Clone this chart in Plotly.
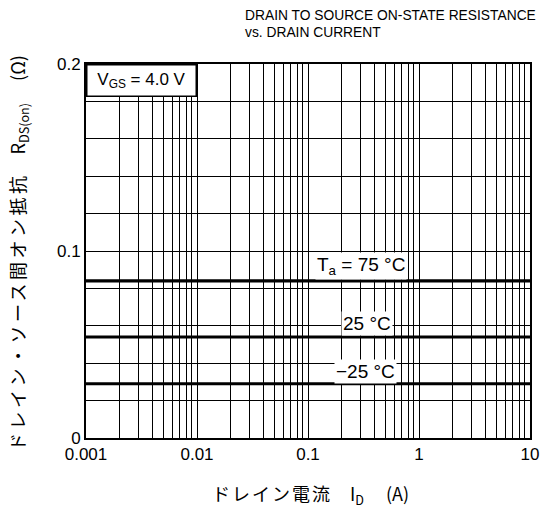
import math
import plotly.graph_objects as go

# ---- data ----
drain_current = [0.001, 10]            # A
r_ta_75 = [0.084, 0.084]               # ohm
r_ta_25 = [0.054, 0.054]
r_ta_m25 = [0.029, 0.029]

x_major = [0.001, 0.01, 0.1, 1, 10]
x_major_text = ["0.001", "0.01", "0.1", "1", "10"]
y_ticks = [0, 0.02, 0.04, 0.06, 0.08, 0.1, 0.12, 0.14, 0.16, 0.18, 0.2]
y_tick_text = ["0", "", "", "", "", "0.1", "", "", "", "", "0.2"]

series_names = ["Ta = 75 °C", "Ta = 25 °C", "Ta = −25 °C"]

# label anchors (data units)
lab_75 = (0.30, 0.092)
lab_25 = (0.34, 0.0615)
lab_m25 = (0.33, 0.0353)

LAT = "Liberation Sans, Arial, Helvetica, sans-serif"
JP = "Noto Sans CJK JP, Liberation Sans, sans-serif"

# grid positions on log axis (all decades 1..9)
x_ticks, x_text = [], []
for i, d in enumerate(x_major[:-1]):
    for m in range(1, 10):
        x_ticks.append(d * m)
        x_text.append(x_major_text[i] if m == 1 else "")
x_ticks.append(x_major[-1])
x_text.append(x_major_text[-1])

fig = go.Figure()
for name, ys in zip(series_names, [r_ta_75, r_ta_25, r_ta_m25]):
    fig.add_trace(go.Scatter(x=drain_current, y=ys, mode="lines", name=name,
                             line=dict(color="black", width=3.2), showlegend=False))

fig.update_layout(
    width=541, height=508,
    margin=dict(l=86, r=11, t=64, b=70, autoexpand=False),
    paper_bgcolor="white", plot_bgcolor="white",
    font=dict(family=LAT, color="black", size=17),
)
fig.update_xaxes(type="log", range=[-3, 1], tickmode="array", tickvals=x_ticks, ticktext=x_text,
                 showgrid=True, gridcolor="black", gridwidth=1.3, ticks="",
                 showline=True, linecolor="black", linewidth=2, mirror=True,
                 zeroline=False, tickfont=dict(size=17, family=LAT))
fig.update_yaxes(range=[0, 0.2], tickmode="array", tickvals=y_ticks, ticktext=y_tick_text,
                 showgrid=True, gridcolor="black", gridwidth=1.3, ticks="",
                 showline=True, linecolor="black", linewidth=2, mirror=True,
                 zeroline=False, tickfont=dict(size=17, family=LAT))

# title lines
TF = dict(size=13.8, family=LAT)
fig.add_annotation(text="DRAIN TO SOURCE ON-STATE RESISTANCE", xref="paper", yref="paper",
                   x=(243 - 86) / 444, y=(438 - 16) / 374, xanchor="left", yanchor="middle",
                   showarrow=False, font=TF)
fig.add_annotation(text="vs. DRAIN CURRENT", xref="paper", yref="paper",
                   x=(243 - 86) / 444, y=(438 - 32) / 374, xanchor="left", yanchor="middle",
                   showarrow=False, font=TF)

# VGS box
fig.add_annotation(text="V<sub>GS</sub> = 4.0 V", xref="paper", yref="paper", x=0, y=1,
                   xanchor="left", yanchor="top", showarrow=False, bgcolor="white",
                   bordercolor="black", borderwidth=1.5, borderpad=2, width=104, height=26,
                   font=dict(size=17, family=LAT))

# temperature labels
for txt, (lx, ly) in zip(["T<sub>a</sub> = 75 °C", "25 °C", "−25 °C"], [lab_75, lab_25, lab_m25]):
    fig.add_annotation(text=txt, x=math.log10(lx), y=ly, xref="x", yref="y", showarrow=False,
                       bgcolor="white", borderpad=1, font=dict(size=19, family=LAT))

# y axis title
fig.add_annotation(
    text="<span style='font-family:Noto Sans CJK JP;letter-spacing:3.5px'>ドレイン・ソース間オン抵抗</span>"
         "　R<sub>DS(on)</sub>　 (Ω)",
    xref="paper", yref="paper", x=-(86 - 18) / 444, y=(438 - 253) / 374, textangle=-90,
    showarrow=False, xanchor="center", yanchor="middle", font=dict(size=18, family=JP))

# x axis title
fig.add_annotation(
    text="<span style='font-family:Noto Sans CJK JP;letter-spacing:2px'>ドレイン電流</span>"
         "　I<sub>D</sub>　 (A)",
    xref="paper", yref="paper", x=(310 - 86) / 444, y=-(494 - 438) / 374,
    showarrow=False, xanchor="center", yanchor="middle", font=dict(size=18, family=JP))

fig.write_html("out.html", config={"displayModeBar": False, "responsive": False},
               post_script="document.body.style.margin='0';document.body.style.overflow='hidden';")
